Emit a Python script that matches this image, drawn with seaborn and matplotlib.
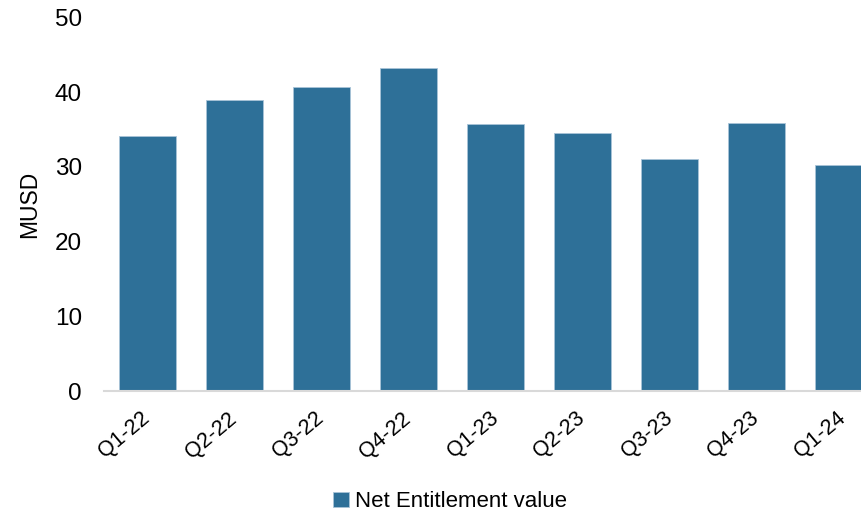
import numpy as np
import pandas as pd
import matplotlib.pyplot as plt
import seaborn as sns
from matplotlib.patches import Patch

quarters = ['Q1-22', 'Q2-22', 'Q3-22', 'Q4-22', 'Q1-23', 'Q2-23', 'Q3-23', 'Q4-23', 'Q1-24']
net_entitlement = [34.1, 39.0, 40.7, 43.3, 35.8, 34.5, 31.1, 35.9, 30.3]

bar_color = '#2E7098'

sns.set_style('white')
plt.rcParams['font.family'] = ['Liberation Sans', 'DejaVu Sans']
plt.rcParams['text.color'] = 'black'
plt.rcParams['axes.labelcolor'] = 'black'
plt.rcParams['xtick.color'] = 'black'
plt.rcParams['ytick.color'] = 'black'

df = pd.DataFrame({'Quarter': quarters, 'Value': net_entitlement})

fig = plt.figure(figsize=(8.61, 5.13), dpi=100)
# plot area runs past the right edge like the original
ax = fig.add_axes([0.1208, 0.2378, 0.9094, 0.728])

sns.barplot(data=df, x='Quarter', y='Value', color=bar_color, width=0.66,
            saturation=1, edgecolor='#A9C4D8', linewidth=0.6, ax=ax)

ax.set_xlim(-0.5, len(quarters) - 0.5)
ax.set_ylim(0, 50)
ax.set_yticks(np.arange(0, 51, 10))
ax.tick_params(axis='y', length=0, pad=16, labelsize=17.5)
ax.tick_params(axis='x', length=0, pad=18, labelsize=15.5)
for lbl in ax.get_xticklabels():
    lbl.set_rotation(40)
    lbl.set_ha('right')
    lbl.set_va('center')
    lbl.set_rotation_mode('anchor')

ax.set_xlabel('')
ax.set_ylabel('MUSD', fontsize=16.5, labelpad=10)

for side in ['top', 'right', 'left']:
    ax.spines[side].set_visible(False)
ax.spines['bottom'].set_color('#D9D9D9')
ax.spines['bottom'].set_linewidth(1.5)

handle = Patch(facecolor=bar_color, edgecolor='#A9C4D8', linewidth=0.6)
fig.legend([handle], ['Net Entitlement value'], loc='center',
           bbox_to_anchor=(0.523, 0.022), frameon=False, fontsize=16,
           handlelength=0.7, handleheight=0.7, handletextpad=0.3)

fig.savefig('out.png', dpi=100)
